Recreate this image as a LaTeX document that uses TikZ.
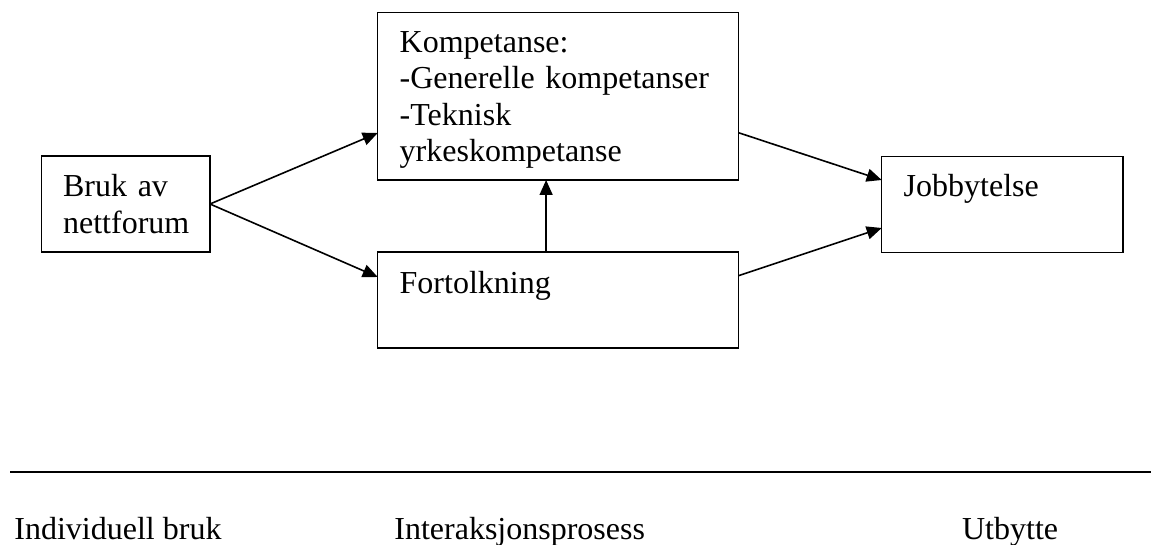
\documentclass[tikz,border=0pt]{standalone}
\usepackage{fontspec}
\setmainfont{Liberation Serif}
\usetikzlibrary{arrows.meta,calc}
\begin{document}
\begin{tikzpicture}[x=0.5pt,y=-0.5pt,
  box/.style={draw,line width=0.75pt,rectangle,inner sep=0pt,outer sep=0pt,anchor=north west},
  txt/.style={inner sep=0pt,anchor=base west,align=left,text width=#1,
    font=\fontsize{16}{18.25}\selectfont},
  caption/.style={inner sep=0pt,anchor=base west,font=\fontsize{16}{18.25}\selectfont},
  link/.style={-{Triangle[length=7.5pt,width=6.5pt]},line width=0.8pt}
]
\useasboundingbox (0,0) rectangle (1151,545);

% boxes
\node[box,minimum width=84.15pt,minimum height=48pt] (bruk) at (41.7,156) {};
\node[box,minimum width=180.4pt,minimum height=83.65pt] (kom) at (377.7,12.7) {};
\node[box,minimum width=180.4pt,minimum height=48pt] (fort) at (377.7,252) {};
\node[box,minimum width=120.65pt,minimum height=47.8pt] (job) at (881.7,156.7) {};

% box texts
\node[txt=75pt] (brukt) at ($(bruk.north west)+(21,40.7)$) {Bruk av\\nettforum};
\node[txt=165pt] (komt) at ($(kom.north west)+(21.6,39.6)$)
  {Kompetanse:\\-Generelle kompetanser\\-Teknisk\\yrkeskompetanse};
\node[txt=165pt] (fortt) at ($(fort.north west)+(21.6,41.3)$) {Fortolkning};
\node[txt=110pt] (jobt) at ($(job.north west)+(21.6,40)$) {Jobbytelse};

% connectors
\draw[link] (bruk.east) -- ($(kom.north west)+(0,120.3)$);
\draw[link] (bruk.east) -- ($(fort.north west)+(0,25)$);
\draw[link] ($(fort.north)+(-12,0)$) -- ($(kom.south)+(-12,0)$);
\draw[link] ($(kom.north east)+(0,120)$) -- ($(job.north west)+(0,23.3)$);
\draw[link] ($(fort.north east)+(0,23.7)$) -- ($(job.north west)+(0,71.3)$);

% divider and stage captions
\draw[line width=1.1pt] (10,471.7) -- (1151,471.7);
\node[caption] (c1) at (14,539.3) {Individuell bruk};
\node[caption] (c2) at (394,539.3) {Interaksjonsprosess};
\node[caption] (c3) at (961.7,539.3) {Utbytte};
\end{tikzpicture}
\end{document}
